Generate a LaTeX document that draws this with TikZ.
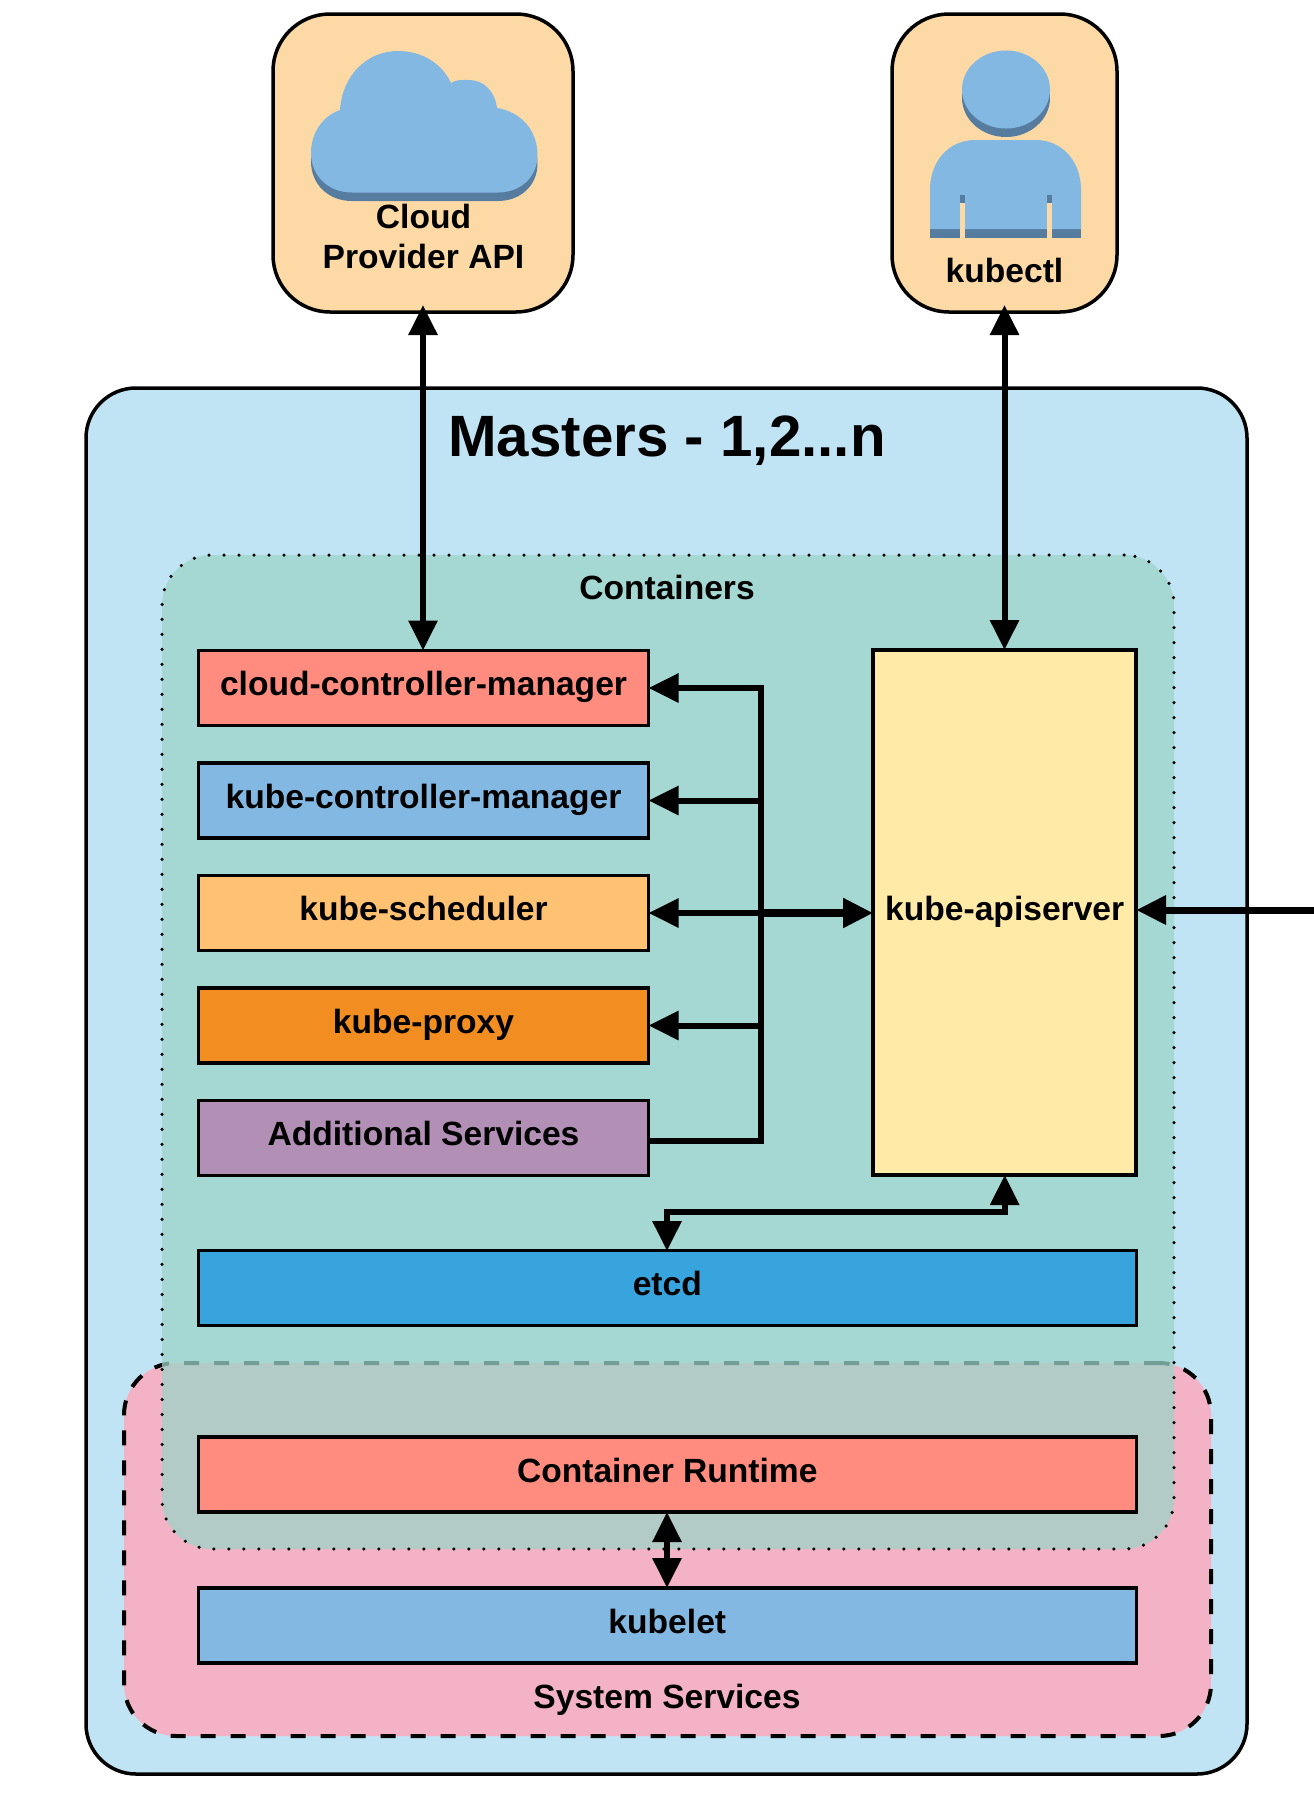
\documentclass[tikz,border=0pt]{standalone}
\usepackage{fontspec}
\setmainfont{Liberation Sans}
\usetikzlibrary{arrows.meta}
\definecolor{mastersblue}{RGB}{193,228,245}
\definecolor{containerteal}{RGB}{156,212,200}
\definecolor{systempink}{RGB}{244,178,198}
\definecolor{iconpeach}{RGB}{253,217,166}
\definecolor{iconblue}{RGB}{131,184,226}
\definecolor{iconshade}{RGB}{86,124,160}
\definecolor{salmonbox}{RGB}{255,140,127}
\definecolor{schedbox}{RGB}{255,193,114}
\definecolor{proxybox}{RGB}{242,142,33}
\definecolor{addonbox}{RGB}{178,143,181}
\definecolor{apibox}{RGB}{255,235,167}
\definecolor{etcdbox}{RGB}{56,164,221}
\tikzset{
  label33/.style={font=\bfseries\fontsize{33.6}{40}\selectfont,text=black,align=center,inner sep=0pt},
  compbox/.style={draw=black,line width=3.5pt,rectangle,outer sep=0pt,inner sep=0pt,label33,text height=24.5pt,text depth=9.4pt},
  smallbox/.style={compbox,minimum width=450pt,minimum height=75pt},
  widebox/.style={compbox,minimum width=938pt,minimum height=75pt},
  iconbox/.style={draw=black,line width=3.5pt,fill=iconpeach,rounded corners=57pt,outer sep=0pt,minimum height=298pt},
  link/.style={draw=black,line width=6pt,-,>={Triangle[length=30pt,width=28pt]}}
}
\begin{document}
\begin{tikzpicture}[x=1pt,y=-1pt]
\useasboundingbox (0,0) rectangle (1314,1800);
\node[iconbox,minimum width=300pt] (cloud) at (423,163) {};
\node[iconbox,minimum width=225pt] (kubectl) at (1004.5,163) {};
\node[draw=black,line width=3.5pt,fill=mastersblue,rounded corners=50pt,outer sep=0pt,minimum width=1161pt,minimum height=1386pt] (masters) at (666.5,1081) {};
\node[draw=black,line width=4pt,dash pattern=on 15pt off 15pt,fill=systempink,rounded corners=52pt,outer sep=0pt,minimum width=1087pt,minimum height=373pt] (system) at (667.5,1549.5) {};
\node[draw=black,line width=3.5pt,line cap=round,dash pattern=on 0pt off 15pt,fill=containerteal,fill opacity=.75,rounded corners=50pt,outer sep=0pt,minimum width=1012pt,minimum height=994pt] (containers) at (668,1052) {};
\fill[iconshade] (311,161.5) .. controls (311,140) and (324,124) .. (340,118.5) .. controls (342,85) and (366,59.5) .. (398,59.5) .. controls (422,59.5) and (442,72) .. (451,91.5) .. controls (456,88) and (462,88.5) .. (469,88.5) .. controls (484,88.5) and (495,100) .. (497,116.5) .. controls (520,120) and (537.5,138) .. (537.5,163.5) .. controls (537.5,186) and (520,201) .. (498,201) -- (352,201) .. controls (328,201) and (311,184) .. (311,161.5) -- cycle;
\fill[iconblue] (311,153) .. controls (311,131.5) and (324,115.5) .. (340,110) .. controls (342,76.5) and (366,51) .. (398,51) .. controls (422,51) and (442,63.5) .. (451,83) .. controls (456,79.5) and (462,80) .. (469,80) .. controls (484,80) and (495,91.5) .. (497,108) .. controls (520,111.5) and (537.5,129.5) .. (537.5,155) .. controls (537.5,177.5) and (520,192.5) .. (498,192.5) -- (352,192.5) .. controls (328,192.5) and (311,175.5) .. (311,153) -- cycle;
\fill[iconshade] (1006,98) ellipse (44pt and 39pt);
\fill[iconblue] (1006,89.5) ellipse (44pt and 39pt);
\fill[iconshade] (930,225) rectangle (1081,238);
\fill[iconblue] (930,229) -- (930,190) .. controls (930,160) and (950,140) .. (975,140) -- (1036,140) .. controls (1061,140) and (1081,160) .. (1081,190) -- (1081,229) -- cycle;
\fill[iconshade] (960,195) rectangle (965,203);
\fill[iconshade] (1047,195) rectangle (1052,203);
\fill[iconpeach] (960,203) rectangle (965,238);
\fill[iconpeach] (1047,203) rectangle (1052,238);
\node[label33] (cloudtext) at (423.5,236) {Cloud\\Provider API};
\node[label33] (kubectltext) at (1004.5,270) {kubectl};
\node[label33,font=\bfseries\fontsize{58.3}{64}\selectfont] (masterstitle) at (667,440.5) {Masters - 1,2...n};
\node[label33] (containerstitle) at (667,587.5) {Containers};
\node[label33] (systemtitle) at (667,1699.5) {System Services};
\node[smallbox,fill=salmonbox] (cloudctl) at (423.5,688) {cloud-controller-manager};
\node[smallbox,fill=iconblue] (kubectl2) at (423.5,800.5) {kube-controller-manager};
\node[smallbox,fill=schedbox] (sched) at (423.5,913) {kube-scheduler};
\node[smallbox,fill=proxybox] (proxy) at (423.5,1025.5) {kube-proxy};
\node[smallbox,fill=addonbox] (addon) at (423.5,1138) {Additional Services};
\node[compbox,fill=apibox,minimum width=263pt,minimum height=525pt] (api) at (1004.7,912.5) {kube-apiserver};
\node[widebox,fill=etcdbox] (etcd) at (667.3,1288) {etcd};
\node[widebox,fill=salmonbox] (runtime) at (667.3,1474.5) {Container Runtime};
\node[widebox,fill=iconblue] (kubelet) at (667.3,1625.5) {kubelet};
\coordinate (busend) at (761,1141);
\coordinate (bustop) at (761,688);
\coordinate (etcdtop) at (667,1251);
\coordinate (extern) at (1314,910);
\draw[link,<->,shorten <=-7pt] (cloud.south) -- (cloud.south |- cloudctl.north);
\draw[link,<->,shorten <=-7pt] (kubectl.south) -- (kubectl.south |- api.north);
\draw[link,<-] (cloudctl.east) -- (bustop) -- (busend) -- (addon.east |- busend);
\draw[link,<-] (kubectl2.east) -- (kubectl2.east -| bustop);
\draw[link,<-] (sched.east) -- (sched.east -| bustop);
\draw[link,<-] (proxy.east) -- (proxy.east -| bustop);
\draw[link,->,line width=7.5pt] (sched.east -| bustop) -- (sched.east -| api.west);
\draw[link,<-,line width=7pt] (api.east |- extern) -- (extern);
\draw[link,<->] (api.south) -- ++(0,37) -| (etcdtop);
\draw[link,<->] (runtime.south -| etcdtop) -- (kubelet.north -| etcdtop);
\end{tikzpicture}
\end{document}
